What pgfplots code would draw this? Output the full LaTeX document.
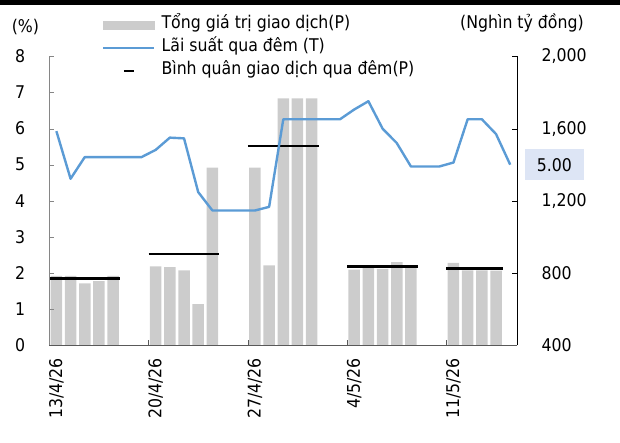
\documentclass[border=0pt]{standalone}
\usepackage{fontspec}
\setmainfont{DejaVu Sans Condensed}
\usepackage{pgfplots}
\usepackage{pgfplotstable}
\pgfplotsset{compat=1.18}
\definecolor{barGray}{RGB}{204,204,204}
\definecolor{lineBlue}{RGB}{91,155,213}
\definecolor{boxBlue}{RGB}{221,229,245}
\definecolor{axGray}{RGB}{134,134,134}
\definecolor{xGray}{RGB}{89,89,89}

% Tong gia tri giao dich (right axis), day index + 0.5
\pgfplotstableread{
x y
0.5 784
1.5 784
2.5 742
3.5 754
4.5 784
7.5 836
8.5 832
9.5 814
10.5 626
11.5 1384
14.5 1384
15.5 842
16.5 1768
17.5 1768
18.5 1768
21.5 818
22.5 834
23.5 822
24.5 860
25.5 834
28.5 856
29.5 814
30.5 814
31.5 812
}\bars

% Lai suat qua dem (left axis)
\pgfplotstableread{
x y
0.5 5.93
1.5 4.61
2.5 5.21
3.5 5.21
4.5 5.21
5.5 5.21
6.5 5.21
7.5 5.41
8.5 5.75
9.5 5.73
10.5 4.24
11.5 3.73
12.5 3.73
13.5 3.73
14.5 3.73
15.5 3.83
16.5 6.26
17.5 6.26
18.5 6.26
19.5 6.26
20.5 6.26
21.5 6.53
22.5 6.76
23.5 6.00
24.5 5.60
25.5 4.95
26.5 4.95
27.5 4.95
28.5 5.06
29.5 6.26
30.5 6.26
31.5 5.85
32.5 5.00
}\rate

\begin{document}
\begin{tikzpicture}[font=\fontsize{17.5}{21}\selectfont]
\useasboundingbox (-49.3pt,-98pt) rectangle (570.7pt,345pt);
\fill[black] (-49.3pt,340pt) rectangle (570.7pt,345pt);

\begin{axis}[
  scale only axis, width=468pt, height=288.5pt,
  xmin=0, xmax=33, ymin=400, ymax=2000,
  axis x line=none, axis y line*=right,
  axis line style={-},
  ytick={400,800,...,2000},
  tick align=inside, major tick length=5pt,
  y axis line style={black}, ytick style={black},
  yticklabel style={anchor=west, inner sep=0pt, xshift=24pt},
  /pgf/number format/1000 sep={,},
  /pgf/number format/assume math mode=true,
  clip mode=individual,
]
\addplot[ybar, bar width=11.5pt, fill=barGray, draw=none] table {\bars};
\addplot[black, line width=2.7pt] coordinates {(0,770) (5,770)};
\addplot[black, line width=2.7pt] coordinates {(7,904) (12,904)};
\addplot[black, line width=2.7pt] coordinates {(14,1504) (19,1504)};
\addplot[black, line width=2.7pt] coordinates {(21,834) (26,834)};
\addplot[black, line width=2.7pt] coordinates {(28,824) (32,824)};
\node at (axis description cs:1.0100,1.1161) {(Nghìn tỷ đồng)};
\end{axis}

\begin{axis}[
  scale only axis, width=468pt, height=288.5pt,
  xmin=0, xmax=33, ymin=0, ymax=8,
  axis x line*=bottom, axis y line*=left, axis line style={-},
  clip mode=individual,
  ytick={0,1,...,8},
  xtick={0,7,14,21,28}, xticklabels={},
  extra x ticks={0.5,7.5,14.5,21.5,28.5},
  extra x tick labels={13/4/26,20/4/26,27/4/26,4/5/26,11/5/26},
  extra x tick style={major tick length=0pt},
  xticklabel style={rotate=90, anchor=east, inner sep=0pt},
  xticklabel shift=13pt,
  tick align=inside, major tick length=5pt,
  y axis line style={axGray}, ytick style={axGray},
  x axis line style={xGray}, xtick style={xGray},
  yticklabel style={anchor=east, inner sep=0pt, xshift=-24pt},
  /pgf/number format/assume math mode=true,
  legend cell align=left,
  legend style={at={(axis description cs:0.1126,1.1352)}, anchor=north west,
    draw=none, fill=none, inner sep=0pt, row sep=8.5pt, column sep=6pt,
    nodes={inner sep=0pt, text height=11pt, text depth=3.5pt}},
]
\addlegendimage{legend image code/.code={\fill[barGray] (0pt,-4pt) rectangle (51pt,4pt);}}
\addlegendentry{Tổng giá trị giao dịch(P)}
\addplot[lineBlue, line width=2.4pt, line join=round,
  legend image code/.code={\draw[lineBlue, line width=2.4pt] (0pt,0pt) -- (51pt,0pt);}] table {\rate};
\addlegendentry{Lãi suất qua đêm (T)}
\addlegendimage{legend image code/.code={\path[draw=none] (0pt,0pt) -- (51pt,0pt); \draw[black, line width=2.7pt] (20.5pt,0pt) -- (30.5pt,0pt);}}
\addlegendentry{Bình quân giao dịch qua đêm(P)}
\node at (axis description cs:-0.0509,1.1005) {(\%)};
\node[fill=boxBlue, minimum width=59pt, minimum height=31pt, inner sep=0pt] at (axis cs:35.62,5) {5.00};
\end{axis}
\end{tikzpicture}
\end{document}
